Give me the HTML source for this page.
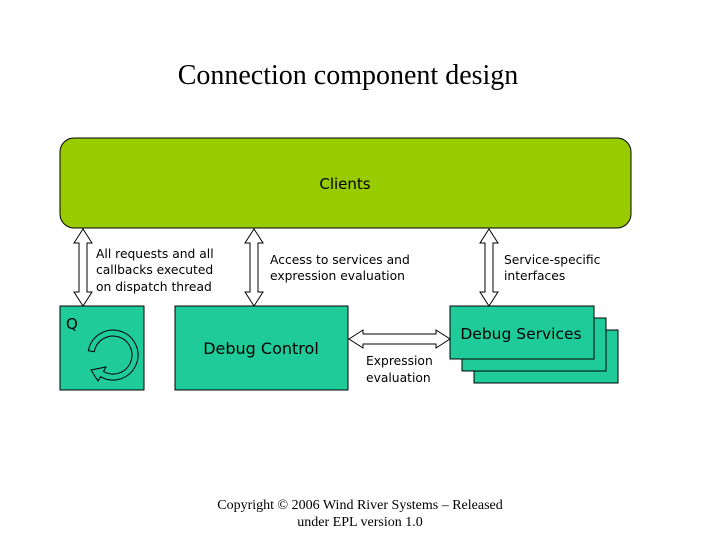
<!DOCTYPE html>
<html><head><style>body{margin:0;background:#fff}</style></head><body>
<svg width="720" height="540" xmlns="http://www.w3.org/2000/svg" font-family="'DejaVu Sans', sans-serif">
<rect width="720" height="540" fill="#fff"/>
<text x="348" y="84" text-anchor="middle" font-family="'Liberation Serif', serif" font-size="28">Connection component design</text>
<rect x="60" y="138" width="571" height="90" rx="14" fill="#99cc00" stroke="#000" stroke-width="1"/>
<text x="345" y="189" text-anchor="middle" font-size="15">Clients</text>
<g fill="#fff" stroke="#000" stroke-width="1">
<path d="M83,229 L92,243 L87,243 L87,292 L92,292 L83,306 L74,292 L79,292 L79,243 L74,243 Z"/>
<path d="M254,229 L263,243 L258,243 L258,292 L263,292 L254,306 L245,292 L250,292 L250,243 L245,243 Z"/>
<path d="M489,229 L498,243 L493,243 L493,292 L498,292 L489,306 L480,292 L485,292 L485,243 L480,243 Z"/>
<path d="M349,339 L363,330 L363,334 L436,334 L436,330 L450,339 L436,348 L436,344 L363,344 L363,348 Z"/>
</g>
<g fill="#1fcc99" stroke="#000" stroke-width="1">
<rect x="60" y="306" width="84" height="84"/>
<rect x="175" y="306" width="173" height="84"/>
<rect x="474" y="330" width="144" height="53"/>
<rect x="462" y="318" width="144" height="53"/>
<rect x="450" y="306" width="144" height="53"/>
</g>
<path d="M88.4,350.7 A25,25 0 1,1 100.5,376.7 L98,381 L91,370 L106,367 L103.5,371.5 A19,19 0 1,0 94.3,351.7 Z" fill="#1fcc99" stroke="#000" stroke-width="1"/>
<text x="66" y="329" font-size="15">Q</text>
<text x="261" y="354" text-anchor="middle" font-size="16">Debug Control</text>
<text x="521" y="339" text-anchor="middle" font-size="15.5">Debug Services</text>
<g font-size="12.3">
<text x="96" y="258">All requests and all</text>
<text x="96" y="274">callbacks executed</text>
<text x="96" y="291">on dispatch thread</text>
<text x="270" y="264">Access to services and</text>
<text x="270" y="280">expression evaluation</text>
<text x="504" y="264">Service-specific</text>
<text x="504" y="280">interfaces</text>
<text x="366" y="365">Expression</text>
<text x="366" y="382">evaluation</text>
</g>
<g font-family="'Liberation Serif', serif" font-size="14" text-anchor="middle">
<text x="360" y="509">Copyright © 2006 Wind River Systems – Released</text>
<text x="360" y="526">under EPL version 1.0</text>
</g>
</svg>
</body></html>
